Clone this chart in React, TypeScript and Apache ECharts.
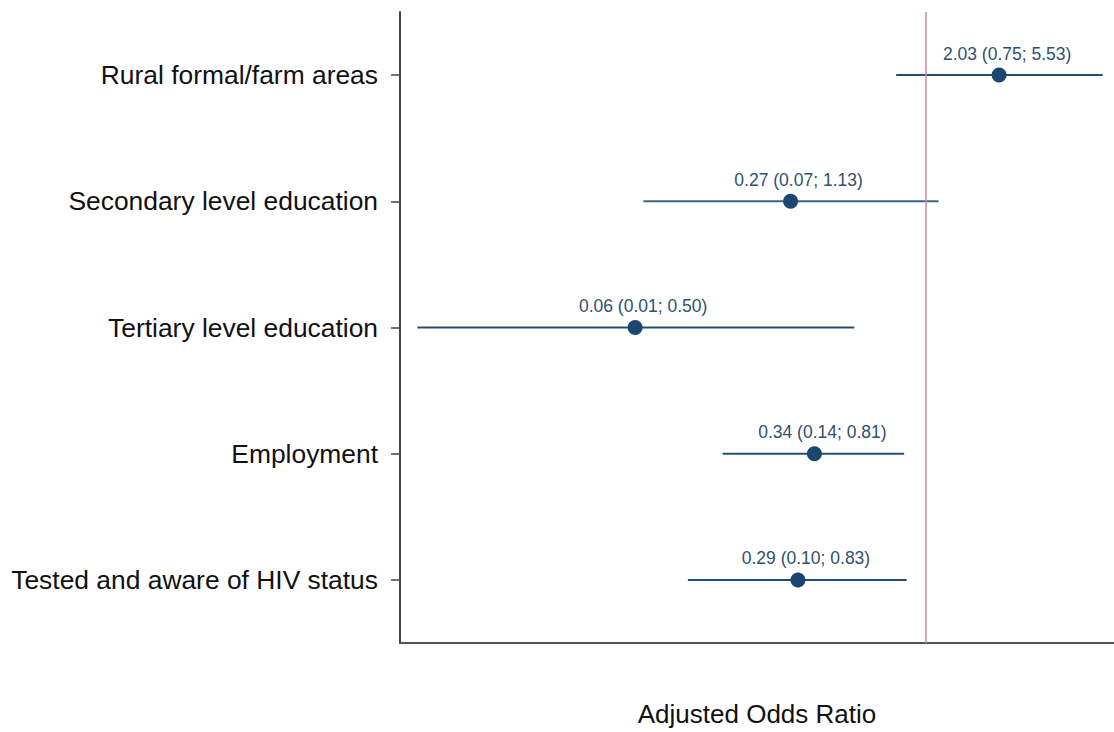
import React, { useEffect, useRef } from "react";
import * as echarts from "echarts";

const categories = [
  "Rural formal/farm areas",
  "Secondary level education",
  "Tertiary level education",
  "Employment",
  "Tested and aware of HIV status",
];
const oddsRatio = [2.03, 0.27, 0.06, 0.34, 0.29];
const ciLower = [0.75, 0.065, 0.0073, 0.14, 0.1];
const ciUpper = [5.53, 1.13, 0.5, 0.81, 0.83];
const ciLabels = [
  "2.03 (0.75; 5.53)",
  "0.27 (0.07; 1.13)",
  "0.06 (0.01; 0.50)",
  "0.34 (0.14; 0.81)",
  "0.29 (0.10; 0.83)",
];
const referenceValue = 1;

export default function App() {
  const ref = useRef<HTMLDivElement>(null);
  useEffect(() => {
    document.body.style.margin = "0";
    const chart = echarts.init(ref.current!, null, { renderer: "svg" });
    const font = "'Liberation Sans', Arial, sans-serif";
    chart.setOption({
      animation: false,
      grid: { left: 400, right: 0, top: 12, bottom: 83 },
      xAxis: {
        type: "log",
        min: 0.00617,
        max: 6.17,
        name: "Adjusted Odds Ratio",
        nameLocation: "middle",
        nameGap: 58,
        nameTextStyle: { fontFamily: font, fontSize: 26, color: "#111" },
        axisLine: { show: true, lineStyle: { color: "#555", width: 2 } },
        axisTick: { show: false },
        axisLabel: { show: false },
        splitLine: { show: false },
      },
      yAxis: {
        type: "category",
        data: categories,
        inverse: true,
        axisLine: { show: true, lineStyle: { color: "#444", width: 2 } },
        axisTick: { show: true, alignWithLabel: true, length: 9, lineStyle: { color: "#444", width: 1.5 } },
        axisLabel: { fontFamily: font, fontSize: 26.4, color: "#111", margin: 22 },
        splitLine: { show: false },
      },
      series: [
        {
          type: "custom",
          data: categories.map((c, i) => [ciLower[i], ciUpper[i], i]),
          encode: { x: [0, 1], y: 2 },
          renderItem: (params: any, api: any) => {
            const idx = api.value(2);
            const p1 = api.coord([api.value(0), idx]);
            const p2 = api.coord([api.value(1), idx]);
            return {
              type: "line",
              shape: { x1: p1[0], y1: p1[1], x2: p2[0], y2: p2[1] },
              style: { stroke: idx === 1 ? "#3a6488" : "#244d72", lineWidth: 2 },
            };
          },
          z: 2,
        },
        {
          type: "scatter",
          data: oddsRatio.map((v, i) => [v, i]),
          symbolSize: 15,
          itemStyle: { color: "#1b4670", opacity: 1 },
          label: {
            show: true,
            position: "top",
            distance: 5,
            offset: [8, 0],
            fontFamily: font,
            fontSize: 17.5,
            color: "#2f5071",
            formatter: (p: any) => ciLabels[p.dataIndex],
          },
          markLine: {
            silent: true,
            symbol: "none",
            label: { show: false },
            lineStyle: { color: "#c98ba4", width: 1.5, type: "solid" },
            data: [{ xAxis: referenceValue }],
          },
          z: 3,
        },
      ],
    });
    return () => chart.dispose();
  }, []);
  return (
    <div
      ref={ref}
      style={{ position: "absolute", left: 0, top: 0, width: 1114, height: 732 }}
    />
  );
}
